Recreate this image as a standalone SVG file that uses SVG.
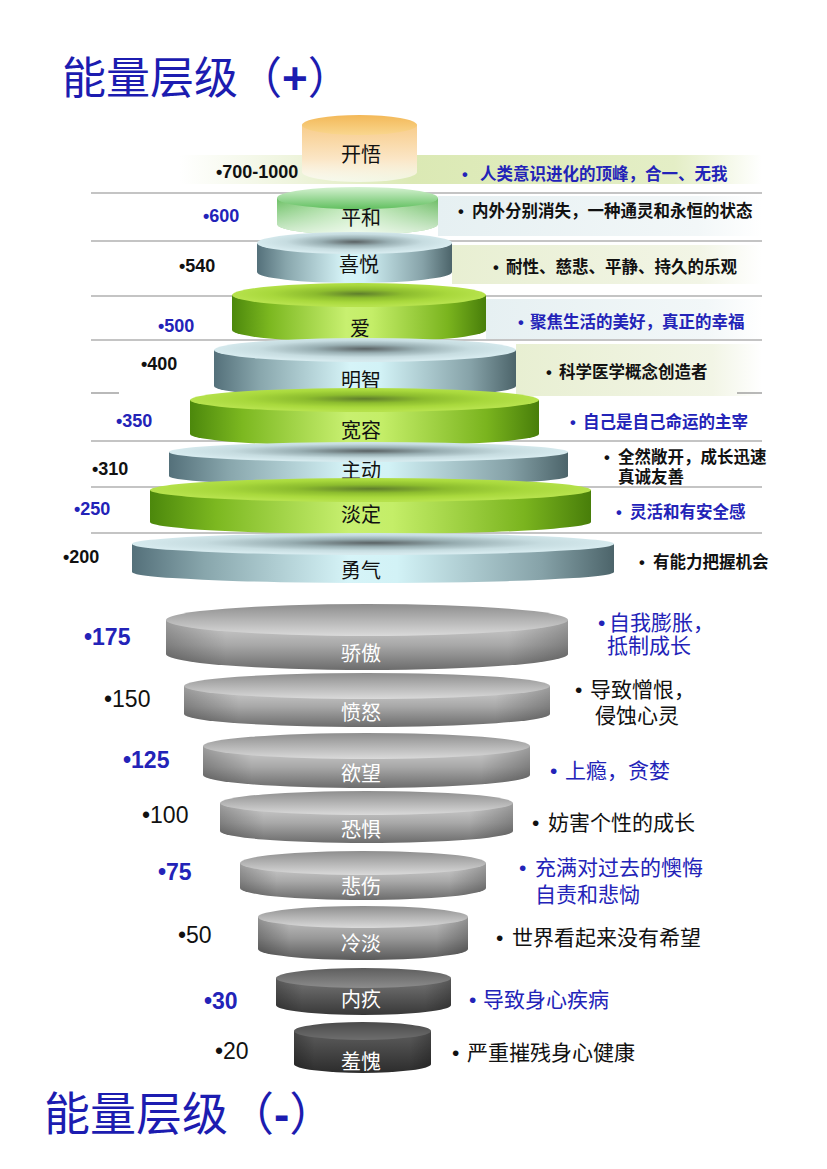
<svg xmlns="http://www.w3.org/2000/svg" width="827" height="1169" viewBox="0 0 827 1169">
<defs>
<linearGradient id="greenSide" x1="0" y1="0" x2="1" y2="0">
<stop offset="0" stop-color="#4c880c"/><stop offset="0.15" stop-color="#7cb820"/><stop offset="0.45" stop-color="#c8f070"/><stop offset="0.55" stop-color="#c4ee68"/><stop offset="0.85" stop-color="#7ab41e"/><stop offset="1" stop-color="#487e0a"/>
</linearGradient>
<radialGradient id="greenTop" cx="0.5" cy="0.45" r="0.5">
<stop offset="0" stop-color="#5e7e2c"/><stop offset="0.35" stop-color="#8cbc2e"/><stop offset="0.7" stop-color="#a8d83c"/><stop offset="1" stop-color="#b6e24c"/>
</radialGradient>
<linearGradient id="steelSide" x1="0" y1="0" x2="1" y2="0">
<stop offset="0" stop-color="#54707a"/><stop offset="0.15" stop-color="#88a6ac"/><stop offset="0.45" stop-color="#d6f4f8"/><stop offset="0.55" stop-color="#d2f2f6"/><stop offset="0.85" stop-color="#86a2a8"/><stop offset="1" stop-color="#4c646a"/>
</linearGradient>
<radialGradient id="steelTop" cx="0.5" cy="0.45" r="0.5">
<stop offset="0" stop-color="#5a6264"/><stop offset="0.35" stop-color="#98aeb2"/><stop offset="0.7" stop-color="#c6dce0"/><stop offset="1" stop-color="#d6eaee"/>
</radialGradient>
<linearGradient id="peaceSide" x1="0" y1="0" x2="1" y2="0">
<stop offset="0" stop-color="#6cc064"/><stop offset="0.5" stop-color="#c4ecbc"/><stop offset="1" stop-color="#6cbc64"/>
</linearGradient>
<linearGradient id="fadeWhite" x1="0" y1="0" x2="0" y2="1">
<stop offset="0" stop-color="#ffffff" stop-opacity="0"/><stop offset="1" stop-color="#ffffff" stop-opacity="0.75"/>
</linearGradient>
<linearGradient id="peaceTop" x1="0" y1="0" x2="0" y2="1">
<stop offset="0" stop-color="#d6f2d2"/><stop offset="1" stop-color="#62c060"/>
</linearGradient>
<linearGradient id="orangeTop" x1="0" y1="0" x2="0" y2="1">
<stop offset="0" stop-color="#f3b858"/><stop offset="1" stop-color="#f9d68e"/>
</linearGradient>
<linearGradient id="orangeBody" x1="0" y1="0" x2="0" y2="1">
<stop offset="0" stop-color="#f8cc8a"/><stop offset="0.6" stop-color="#fbe6c6"/><stop offset="1" stop-color="#ffffff" stop-opacity="0.6"/>
</linearGradient>
<linearGradient id="band0" x1="0" y1="0" x2="1" y2="0">
<stop offset="0" stop-color="#ffffff"/><stop offset="0.2" stop-color="#eef4dc"/><stop offset="0.4" stop-color="#dbe9b4"/><stop offset="0.85" stop-color="#e4eec6"/><stop offset="1" stop-color="#ffffff"/>
</linearGradient>
<linearGradient id="bandG" x1="0" y1="0" x2="1" y2="0">
<stop offset="0" stop-color="#e8efd2"/><stop offset="0.8" stop-color="#f2f5e6"/><stop offset="1" stop-color="#ffffff"/>
</linearGradient>
<linearGradient id="bandB" x1="0" y1="0" x2="1" y2="0">
<stop offset="0" stop-color="#e6f0f2"/><stop offset="0.8" stop-color="#f2f7f8"/><stop offset="1" stop-color="#ffffff"/>
</linearGradient>
<linearGradient id="graySide" x1="0" y1="0" x2="0" y2="1">
<stop offset="0" stop-color="#d2d2d2"/><stop offset="0.5" stop-color="#a8a8a8"/><stop offset="1" stop-color="#6c6c6c"/>
</linearGradient>
<linearGradient id="grayTop" x1="0" y1="0" x2="0" y2="1">
<stop offset="0" stop-color="#8e8e8e"/><stop offset="1" stop-color="#dadada"/>
</linearGradient>
<linearGradient id="gray2Side" x1="0" y1="0" x2="0" y2="1">
<stop offset="0" stop-color="#c4c4c4"/><stop offset="0.5" stop-color="#979797"/><stop offset="1" stop-color="#5a5a5a"/>
</linearGradient>
<linearGradient id="darkSide" x1="0" y1="0" x2="0" y2="1">
<stop offset="0" stop-color="#777777"/><stop offset="1" stop-color="#383838"/>
</linearGradient>
<linearGradient id="darkTop" x1="0" y1="0" x2="0" y2="1">
<stop offset="0" stop-color="#5e5e5e"/><stop offset="1" stop-color="#8c8c8c"/>
</linearGradient>
<linearGradient id="darkerSide" x1="0" y1="0" x2="0" y2="1">
<stop offset="0" stop-color="#5e5e5e"/><stop offset="1" stop-color="#2c2c2c"/>
</linearGradient>
<linearGradient id="darkerTop" x1="0" y1="0" x2="0" y2="1">
<stop offset="0" stop-color="#4a4a4a"/><stop offset="1" stop-color="#6e6e6e"/>
</linearGradient>
<linearGradient id="edgeShade" x1="0" y1="0" x2="1" y2="0">
<stop offset="0" stop-color="#000" stop-opacity="0.25"/><stop offset="0.15" stop-color="#000" stop-opacity="0"/><stop offset="0.85" stop-color="#000" stop-opacity="0"/><stop offset="1" stop-color="#000" stop-opacity="0.25"/>
</linearGradient>
</defs>
<style>
.title{font-family:"Liberation Sans","Noto Sans CJK SC",sans-serif;fill:#1c1cb0;}
.lbl{font-family:"Noto Sans CJK SC",sans-serif;font-size:20px;fill:#111;text-anchor:middle;}
.lblw{font-family:"Noto Sans CJK SC",sans-serif;font-size:20px;fill:#fff;text-anchor:middle;}
.num{font-family:"Liberation Sans",sans-serif;font-size:18px;font-weight:bold;fill:#111;}
.numb{font-family:"Liberation Sans",sans-serif;font-size:18px;font-weight:bold;fill:#2323b8;}
.desc{font-family:"Liberation Sans","Noto Sans CJK SC",sans-serif;font-size:16.5px;font-weight:bold;fill:#111;}
.descb{font-family:"Liberation Sans","Noto Sans CJK SC",sans-serif;font-size:16.5px;font-weight:bold;fill:#2323b8;}
.n2{font-family:"Liberation Sans",sans-serif;font-size:23px;fill:#111;}
.n2b{font-family:"Liberation Sans",sans-serif;font-size:23px;font-weight:bold;fill:#2323b8;}
.d2{font-family:"Liberation Sans","Noto Sans CJK SC",sans-serif;font-size:21px;fill:#111;}
.d2b{font-family:"Liberation Sans","Noto Sans CJK SC",sans-serif;font-size:21px;fill:#2323b8;}
.sep{stroke:#8a8a8a;stroke-width:1.2;}
</style>
<rect width="827" height="1169" fill="#ffffff"/>

<g id="bands">
<rect x="180" y="155" width="582" height="29" fill="url(#band0)"/>
<rect x="438" y="196" width="324" height="40" fill="url(#bandB)"/>
<rect x="452" y="245" width="310" height="39" fill="url(#bandG)"/>
<rect x="486" y="299" width="276" height="40" fill="url(#bandB)"/>
<rect x="516" y="344" width="246" height="52" fill="url(#bandG)"/>
</g>

<g id="separators">
<line class="sep" x1="91" y1="193" x2="762" y2="193"/>
<line class="sep" x1="91" y1="241" x2="762" y2="241"/>
<line class="sep" x1="91" y1="296" x2="762" y2="296"/>
<line class="sep" x1="91" y1="340" x2="762" y2="340"/>
<line class="sep" x1="91" y1="393" x2="119" y2="393"/>
<line class="sep" x1="737" y1="393" x2="762" y2="393"/>
<line class="sep" x1="91" y1="441" x2="762" y2="441"/>
<line class="sep" x1="91" y1="487" x2="762" y2="487"/>
<line class="sep" x1="91" y1="533" x2="762" y2="533"/>
</g>

<g id="connectors"></g>

<text class="title" x="62" y="94" font-size="44">能量层级（<tspan font-weight="bold">+</tspan>）</text>

<g id="node-kaiwu">
<path d="M302,125 L302,172 A57.5,10 0 0 0 417,172 L417,125 Z" fill="url(#orangeBody)"/>
<ellipse cx="359.5" cy="125" rx="57.5" ry="10" fill="url(#orangeTop)"/>
<text class="lbl" x="361" y="162">开悟</text>
<text class="num" x="216" y="178">•700-1000</text>
<text class="descb" y="180"><tspan x="462">•</tspan><tspan x="480">人类意识进化的顶峰，合一、无我</tspan></text>
</g>

<g id="node-pinghe">
<path d="M277,198 L277,224 A80.5,11 0 0 0 438,224 L438,198 Z" fill="url(#peaceSide)"/>
<path d="M277,198 L277,224 A80.5,11 0 0 0 438,224 L438,198 Z" fill="url(#fadeWhite)"/>
<ellipse cx="357.5" cy="198" rx="80.5" ry="11" fill="url(#peaceTop)"/>
<text class="lbl" x="361" y="225">平和</text>
<text class="numb" x="203" y="222">•600</text>
<text class="desc" y="217"><tspan x="458">•</tspan><tspan x="472">内外分别消失，一种通灵和永恒的状态</tspan></text>
</g>

<g id="node-xiyue">
<path d="M257,243 L257,272 A97.5,11 0 0 0 452,272 L452,243 Z" fill="url(#steelSide)"/>
<ellipse cx="354.5" cy="243" rx="97.5" ry="11" fill="url(#steelTop)"/>
<text class="lbl" x="359" y="272">喜悦</text>
<text class="num" x="179" y="272">•540</text>
<text class="desc" y="273"><tspan x="493">•</tspan><tspan x="506">耐性、慈悲、平静、持久的乐观</tspan></text>
</g>

<g id="node-ai">
<path d="M232,295 L232,330 A127,12 0 0 0 486,330 L486,295 Z" fill="url(#greenSide)"/>
<ellipse cx="359" cy="295" rx="127" ry="12" fill="url(#greenTop)"/>
<text class="lbl" x="360" y="336">爱</text>
<text class="numb" x="158" y="332">•500</text>
<text class="descb" y="328"><tspan x="518">•</tspan><tspan x="530">聚焦生活的美好，真正的幸福</tspan></text>
</g>

<g id="node-mingzhi">
<path d="M214,350 L214,386 A151,12 0 0 0 516,386 L516,350 Z" fill="url(#steelSide)"/>
<ellipse cx="365" cy="350" rx="151" ry="12" fill="url(#steelTop)"/>
<text class="lbl" x="361" y="388">明智</text>
<text class="num" x="141" y="370">•400</text>
<text class="desc" y="378"><tspan x="546">•</tspan><tspan x="559">科学医学概念创造者</tspan></text>
</g>

<g id="node-kuanrong">
<path d="M190,400 L190,434 A174.5,12 0 0 0 539,434 L539,400 Z" fill="url(#greenSide)"/>
<ellipse cx="364.5" cy="400" rx="174.5" ry="12" fill="url(#greenTop)"/>
<text class="lbl" x="361" y="438">宽容</text>
<text class="numb" x="116" y="427">•350</text>
<text class="descb" y="428"><tspan x="570">•</tspan><tspan x="583">自己是自己命运的主宰</tspan></text>
</g>

<g id="node-zhudong">
<path d="M169,452 L169,476 A199.5,10 0 0 0 568,476 L568,452 Z" fill="url(#steelSide)"/>
<ellipse cx="368.5" cy="452" rx="199.5" ry="10" fill="url(#steelTop)"/>
<text class="lbl" x="361" y="478">主动</text>
<text class="num" x="92" y="475">•310</text>
<text class="desc" y="463"><tspan x="604">•</tspan><tspan x="618">全然敞开，成长迅速</tspan></text>
<text class="desc" x="618" y="483">真诚友善</text>
</g>

<g id="node-danding">
<path d="M150,490 L150,522 A220.5,12 0 0 0 591,522 L591,490 Z" fill="url(#greenSide)"/>
<ellipse cx="370.5" cy="490" rx="220.5" ry="12" fill="url(#greenTop)"/>
<text class="lbl" x="361" y="522">淡定</text>
<text class="numb" x="74" y="515">•250</text>
<text class="descb" y="518"><tspan x="616">•</tspan><tspan x="630">灵活和有安全感</tspan></text>
</g>

<g id="node-yongqi">
<path d="M132,544 L132,572 A241,11 0 0 0 614,572 L614,544 Z" fill="url(#steelSide)"/>
<ellipse cx="373" cy="544" rx="241" ry="11" fill="url(#steelTop)"/>
<text class="lbl" x="361" y="578">勇气</text>
<text class="num" x="63" y="563">•200</text>
<text class="desc" y="568"><tspan x="639">•</tspan><tspan x="653">有能力把握机会</tspan></text>
</g>

<g id="node-jiaoao">
<path d="M166,620 L166,654 A201,16 0 0 0 568,654 L568,620 Z" fill="url(#graySide)"/>
<path d="M166,620 L166,654 A201,16 0 0 0 568,654 L568,620 Z" fill="url(#edgeShade)"/>
<ellipse cx="367" cy="620" rx="201" ry="16" fill="url(#grayTop)"/>
<text class="lblw" x="361" y="661">骄傲</text>
<text class="n2b" x="84" y="645">•175</text>
<text class="d2b" y="630"><tspan x="598">•</tspan><tspan x="609">自我膨胀，</tspan></text>
<text class="d2b" x="607" y="653">抵制成长</text>
</g>

<g id="node-fennu">
<path d="M184,686 L184,714 A183,13 0 0 0 550,714 L550,686 Z" fill="url(#graySide)"/>
<path d="M184,686 L184,714 A183,13 0 0 0 550,714 L550,686 Z" fill="url(#edgeShade)"/>
<ellipse cx="367" cy="686" rx="183" ry="13" fill="url(#grayTop)"/>
<text class="lblw" x="361" y="720">愤怒</text>
<text class="n2" x="104" y="707">•150</text>
<text class="d2" y="697"><tspan x="575">•</tspan><tspan x="590">导致憎恨，</tspan></text>
<text class="d2" x="595" y="723">侵蚀心灵</text>
</g>

<g id="node-yuwang">
<path d="M203,746 L203,775 A163.5,13 0 0 0 530,775 L530,746 Z" fill="url(#graySide)"/>
<path d="M203,746 L203,775 A163.5,13 0 0 0 530,775 L530,746 Z" fill="url(#edgeShade)"/>
<ellipse cx="366.5" cy="746" rx="163.5" ry="13" fill="url(#grayTop)"/>
<text class="lblw" x="361" y="781">欲望</text>
<text class="n2b" x="123" y="768">•125</text>
<text class="d2b" y="778"><tspan x="550">•</tspan><tspan x="565">上瘾，贪婪</tspan></text>
</g>

<g id="node-kongju">
<path d="M220,803 L220,831 A146.5,12 0 0 0 513,831 L513,803 Z" fill="url(#graySide)"/>
<path d="M220,803 L220,831 A146.5,12 0 0 0 513,831 L513,803 Z" fill="url(#edgeShade)"/>
<ellipse cx="366.5" cy="803" rx="146.5" ry="12" fill="url(#grayTop)"/>
<text class="lblw" x="361" y="837">恐惧</text>
<text class="n2" x="142" y="823">•100</text>
<text class="d2" y="830"><tspan x="532">•</tspan><tspan x="548">妨害个性的成长</tspan></text>
</g>

<g id="node-beishang">
<path d="M240,863 L240,888 A123,12 0 0 0 486,888 L486,863 Z" fill="url(#graySide)"/>
<path d="M240,863 L240,888 A123,12 0 0 0 486,888 L486,863 Z" fill="url(#edgeShade)"/>
<ellipse cx="363" cy="863" rx="123" ry="12" fill="url(#grayTop)"/>
<text class="lblw" x="361" y="894">悲伤</text>
<text class="n2b" x="158" y="880">•75</text>
<text class="d2b" y="875"><tspan x="519">•</tspan><tspan x="535">充满对过去的懊悔</tspan></text>
<text class="d2b" x="535" y="902">自责和悲恸</text>
</g>

<g id="node-lengdan">
<path d="M258,917 L258,949 A105,11 0 0 0 468,949 L468,917 Z" fill="url(#gray2Side)"/>
<path d="M258,917 L258,949 A105,11 0 0 0 468,949 L468,917 Z" fill="url(#edgeShade)"/>
<ellipse cx="363" cy="917" rx="105" ry="11" fill="url(#grayTop)"/>
<text class="lblw" x="361" y="951">冷淡</text>
<text class="n2" x="178" y="943">•50</text>
<text class="d2" y="945"><tspan x="496">•</tspan><tspan x="512">世界看起来没有希望</tspan></text>
</g>

<g id="node-neijiu">
<path d="M276,978 L276,1005 A87.5,10 0 0 0 451,1005 L451,978 Z" fill="url(#darkSide)"/>
<path d="M276,978 L276,1005 A87.5,10 0 0 0 451,1005 L451,978 Z" fill="url(#edgeShade)"/>
<ellipse cx="363.5" cy="978" rx="87.5" ry="10" fill="url(#darkTop)"/>
<text class="lblw" x="361" y="1007">内疚</text>
<text class="n2b" x="204" y="1009">•30</text>
<text class="d2b" y="1007"><tspan x="469">•</tspan><tspan x="483">导致身心疾病</tspan></text>
</g>

<g id="node-xiukui">
<path d="M294,1031 L294,1064 A68.5,9 0 0 0 431,1064 L431,1031 Z" fill="url(#darkerSide)"/>
<path d="M294,1031 L294,1064 A68.5,9 0 0 0 431,1064 L431,1031 Z" fill="url(#edgeShade)"/>
<ellipse cx="362.5" cy="1031" rx="68.5" ry="9" fill="url(#darkerTop)"/>
<text class="lblw" x="361" y="1069">羞愧</text>
<text class="n2" x="215" y="1059">•20</text>
<text class="d2" y="1060"><tspan x="452">•</tspan><tspan x="467">严重摧残身心健康</tspan></text>
</g>

<text class="title" x="44" y="1130" font-size="46">能量层级（<tspan font-weight="bold">-</tspan>）</text>
</svg>
